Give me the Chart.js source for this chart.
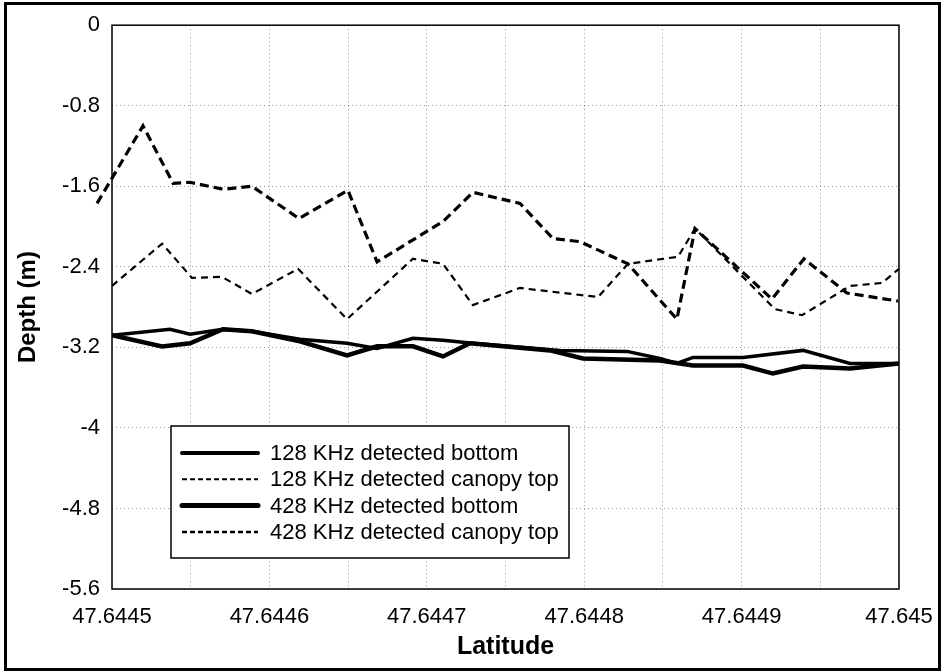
<!DOCTYPE html>
<html lang="en">
<head>
<meta charset="UTF-8">
<meta name="viewport" content="width=device-width, initial-scale=1.0">
<title>Depth vs Latitude</title>
<style>
  html, body {
    margin: 0;
    padding: 0;
    background-color: #fff;
  }
  #wrap {
    position: relative;
    width: 943px;
    height: 672px;
  }
  #wrap canvas {
    position: absolute;
    left: 0;
    top: 0;
  }
  #frame {
    position: absolute;
    left: 4px;
    top: 2px;
    width: 937px;
    height: 669px;
    border: 3px solid #000;
    box-sizing: border-box;
    pointer-events: none;
  }
</style>
<script src="https://cdn.jsdelivr.net/npm/chart.js"></script>
</head>
<body>

<div id="wrap">
  <canvas id="depthChart" width="943" height="672"></canvas>
  <div id="frame"></div>
</div>

<script>
// Axis ticks
var xTicks = [47.6445, 47.6446, 47.6447, 47.6448, 47.6449, 47.645];
var xTickLabels = ['47.6445', '47.6446', '47.6447', '47.6448', '47.6449', '47.645'];
var yTicks = [0, -0.8, -1.6, -2.4, -3.2, -4, -4.8, -5.6];
var yTickLabels = ['0', '-0.8', '-1.6', '-2.4', '-3.2', '-4', '-4.8', '-5.6'];

// 128 KHz detected bottom
var lat128Bottom = [47.6445000, 47.6445368, 47.6445496, 47.6445705, 47.6445889, 47.6446194, 47.6446493,
  47.6446684, 47.6446912, 47.6447103, 47.6447293, 47.6447846, 47.6448272, 47.6448481, 47.6448589,
  47.6448691, 47.6449009, 47.6449390, 47.6449689, 47.6450000];
var depth128Bottom = [-3.08, -3.02, -3.07, -3.02, -3.04, -3.12, -3.16,
  -3.21, -3.11, -3.13, -3.16, -3.23, -3.24, -3.31, -3.36,
  -3.30, -3.30, -3.23, -3.36, -3.36];

// 128 KHz detected canopy top
var lat128Canopy = [47.6445000, 47.6445318, 47.6445508, 47.6445699, 47.6445889, 47.6446182, 47.6446493,
  47.6446912, 47.6447103, 47.6447293, 47.6447592, 47.6448088, 47.6448278, 47.6448596, 47.6448704,
  47.6449212, 47.6449384, 47.6449689, 47.6449892, 47.6450000];
var depth128Canopy = [-2.59, -2.17, -2.51, -2.50, -2.67, -2.42, -2.92,
  -2.32, -2.37, -2.78, -2.61, -2.70, -2.37, -2.30, -2.02,
  -2.82, -2.88, -2.59, -2.56, -2.42];

// 428 KHz detected bottom
var lat428Bottom = [47.6445000, 47.6445318, 47.6445496, 47.6445705, 47.6445889, 47.6446194, 47.6446493,
  47.6446684, 47.6446912, 47.6447103, 47.6447274, 47.6447783, 47.6447992, 47.6448481, 47.6448691,
  47.6449009, 47.6449199, 47.6449390, 47.6449689, 47.6450000];
var depth428Bottom = [-3.08, -3.19, -3.16, -3.02, -3.04, -3.14, -3.28,
  -3.19, -3.19, -3.29, -3.16, -3.23, -3.31, -3.33, -3.38,
  -3.38, -3.46, -3.39, -3.41, -3.36];

// 428 KHz detected canopy top
var lat428Canopy = [47.6444905, 47.6445197, 47.6445388, 47.6445496, 47.6445705, 47.6445889, 47.6446188,
  47.6446499, 47.6446684, 47.6447103, 47.6447293, 47.6447592, 47.6447802, 47.6447973, 47.6448278,
  47.6448589, 47.6448704, 47.6449193, 47.6449396, 47.6449669, 47.6449993];
var depth428Canopy = [-1.77, -1.00, -1.57, -1.56, -1.63, -1.60, -1.92,
  -1.64, -2.35, -1.95, -1.66, -1.77, -2.12, -2.15, -2.37,
  -2.92, -2.02, -2.72, -2.32, -2.66, -2.74];

var seriesLabels = ['128 KHz detected bottom', '128 KHz detected canopy top',
  '428 KHz detected bottom', '428 KHz detected canopy top'];

function toPoints(lat, depth) {
  return lat.map(function(x, i) { return { x: x, y: depth[i] }; });
}

var fontFamily = '"Liberation Sans", Arial, sans-serif';

// plot frame + legend box drawn inside the plot area
var boxLegend = {
  id: 'boxLegend',
  beforeDatasetsDraw: function(chart) {
    var a = chart.chartArea;
    var ctx = chart.ctx;
    ctx.save();
    ctx.strokeStyle = '#000';
    ctx.lineWidth = 1.5;
    ctx.strokeRect(a.left, a.top, a.right - a.left, a.bottom - a.top);
    ctx.restore();
  },
  afterDraw: function(chart) {
    var o = chart.options.plugins.boxLegend;
    var ctx = chart.ctx;
    ctx.save();
    ctx.fillStyle = '#fff';
    ctx.fillRect(o.left, o.top, o.width, o.height);
    ctx.strokeStyle = '#000';
    ctx.lineWidth = 1.5;
    ctx.strokeRect(o.left, o.top, o.width, o.height);
    ctx.font = o.fontSize + 'px ' + fontFamily;
    ctx.textBaseline = 'middle';
    ctx.textAlign = 'left';
    chart.data.datasets.forEach(function(ds, i) {
      var y = o.top + o.firstRow + i * o.rowHeight;
      var dashed = ds.borderDash && ds.borderDash.length;
      ctx.beginPath();
      ctx.setLineDash(dashed ? o.dash : []);
      ctx.lineCap = dashed ? 'butt' : 'round';
      ctx.lineWidth = o.lineWidths[i];
      ctx.strokeStyle = '#000';
      ctx.moveTo(o.left + o.sampleFrom, y);
      ctx.lineTo(o.left + o.sampleTo, y);
      ctx.stroke();
      ctx.setLineDash([]);
      ctx.fillStyle = '#000';
      ctx.fillText(ds.label, o.left + o.textX, y + 1);
    });
    ctx.restore();
  }
};

var depthChart = new Chart(document.getElementById('depthChart'), {
  type: 'scatter',
  data: {
    datasets: [{
      label: seriesLabels[0],
      data: toPoints(lat128Bottom, depth128Bottom),
      borderColor: '#000',
      borderWidth: 3.5,
      showLine: true
    }, {
      label: seriesLabels[1],
      data: toPoints(lat128Canopy, depth128Canopy),
      borderColor: '#000',
      borderWidth: 2.2,
      borderDash: [7, 5],
      showLine: true
    }, {
      label: seriesLabels[2],
      data: toPoints(lat428Bottom, depth428Bottom),
      borderColor: '#000',
      borderWidth: 4.5,
      showLine: true
    }, {
      label: seriesLabels[3],
      data: toPoints(lat428Canopy, depth428Canopy),
      borderColor: '#000',
      borderWidth: 3.2,
      borderDash: [9, 5],
      showLine: true,
      clip: false
    }]
  },
  options: {
    responsive: false,
    animation: false,
    layout: {
      padding: { left: 0, top: 23, right: 44, bottom: 0 }
    },
    elements: {
      point: { radius: 0, hoverRadius: 0 },
      line: { tension: 0, borderJoinStyle: 'miter', fill: false }
    },
    scales: {
      x: {
        type: 'linear',
        min: xTicks[0],
        max: xTicks[xTicks.length - 1],
        afterBuildTicks: function(axis) {
          // a grid line every half step, a label every full step
          var ticks = [];
          for (var i = 0; i < xTicks.length * 2 - 1; i++) {
            ticks.push({ value: xTicks[0] + i * (xTicks[1] - xTicks[0]) / 2 });
          }
          axis.ticks = ticks;
        },
        afterFit: function(axis) {
          axis.height = 83;
          axis.paddingLeft = 0;
          axis.paddingRight = 0;
        },
        ticks: {
          autoSkip: false,
          maxRotation: 0,
          padding: 15,
          color: '#000',
          font: { family: fontFamily, size: 22 },
          callback: function(value, index) {
            return index % 2 ? '' : xTickLabels[index / 2];
          }
        },
        grid: {
          color: 'rgba(0,0,0,0.4)',
          lineWidth: 1,
          drawTicks: false
        },
        border: { display: false, dash: [1, 3] },
        title: {
          display: true,
          text: 'Latitude',
          color: '#000',
          font: { family: fontFamily, size: 25, weight: 'bold' },
          padding: { top: 0, bottom: 10 }
        }
      },
      y: {
        type: 'linear',
        min: -5.6,
        max: 0,
        afterBuildTicks: function(axis) {
          axis.ticks = yTicks.map(function(v) { return { value: v }; });
        },
        afterFit: function(axis) { axis.width = 112; },
        ticks: {
          padding: 12,
          color: '#000',
          font: { family: fontFamily, size: 22 },
          callback: function(value, index) { return yTickLabels[index]; }
        },
        grid: {
          color: 'rgba(0,0,0,0.4)',
          lineWidth: 1,
          drawTicks: false
        },
        border: { display: false, dash: [1, 3] },
        title: {
          display: true,
          text: 'Depth (m)',
          color: '#000',
          font: { family: fontFamily, size: 24, weight: 'bold' },
          padding: { top: 14, bottom: 0 }
        }
      }
    },
    plugins: {
      legend: { display: false },
      tooltip: { enabled: false },
      boxLegend: {
        left: 171,
        top: 426,
        width: 398,
        height: 132,
        firstRow: 27,
        rowHeight: 26.3,
        sampleFrom: 11,
        sampleTo: 87,
        textX: 99,
        fontSize: 22,
        dash: [5, 3],
        lineWidths: [4, 2, 5, 2.5]
      }
    }
  },
  plugins: [boxLegend]
});
</script>

</body>
</html>
